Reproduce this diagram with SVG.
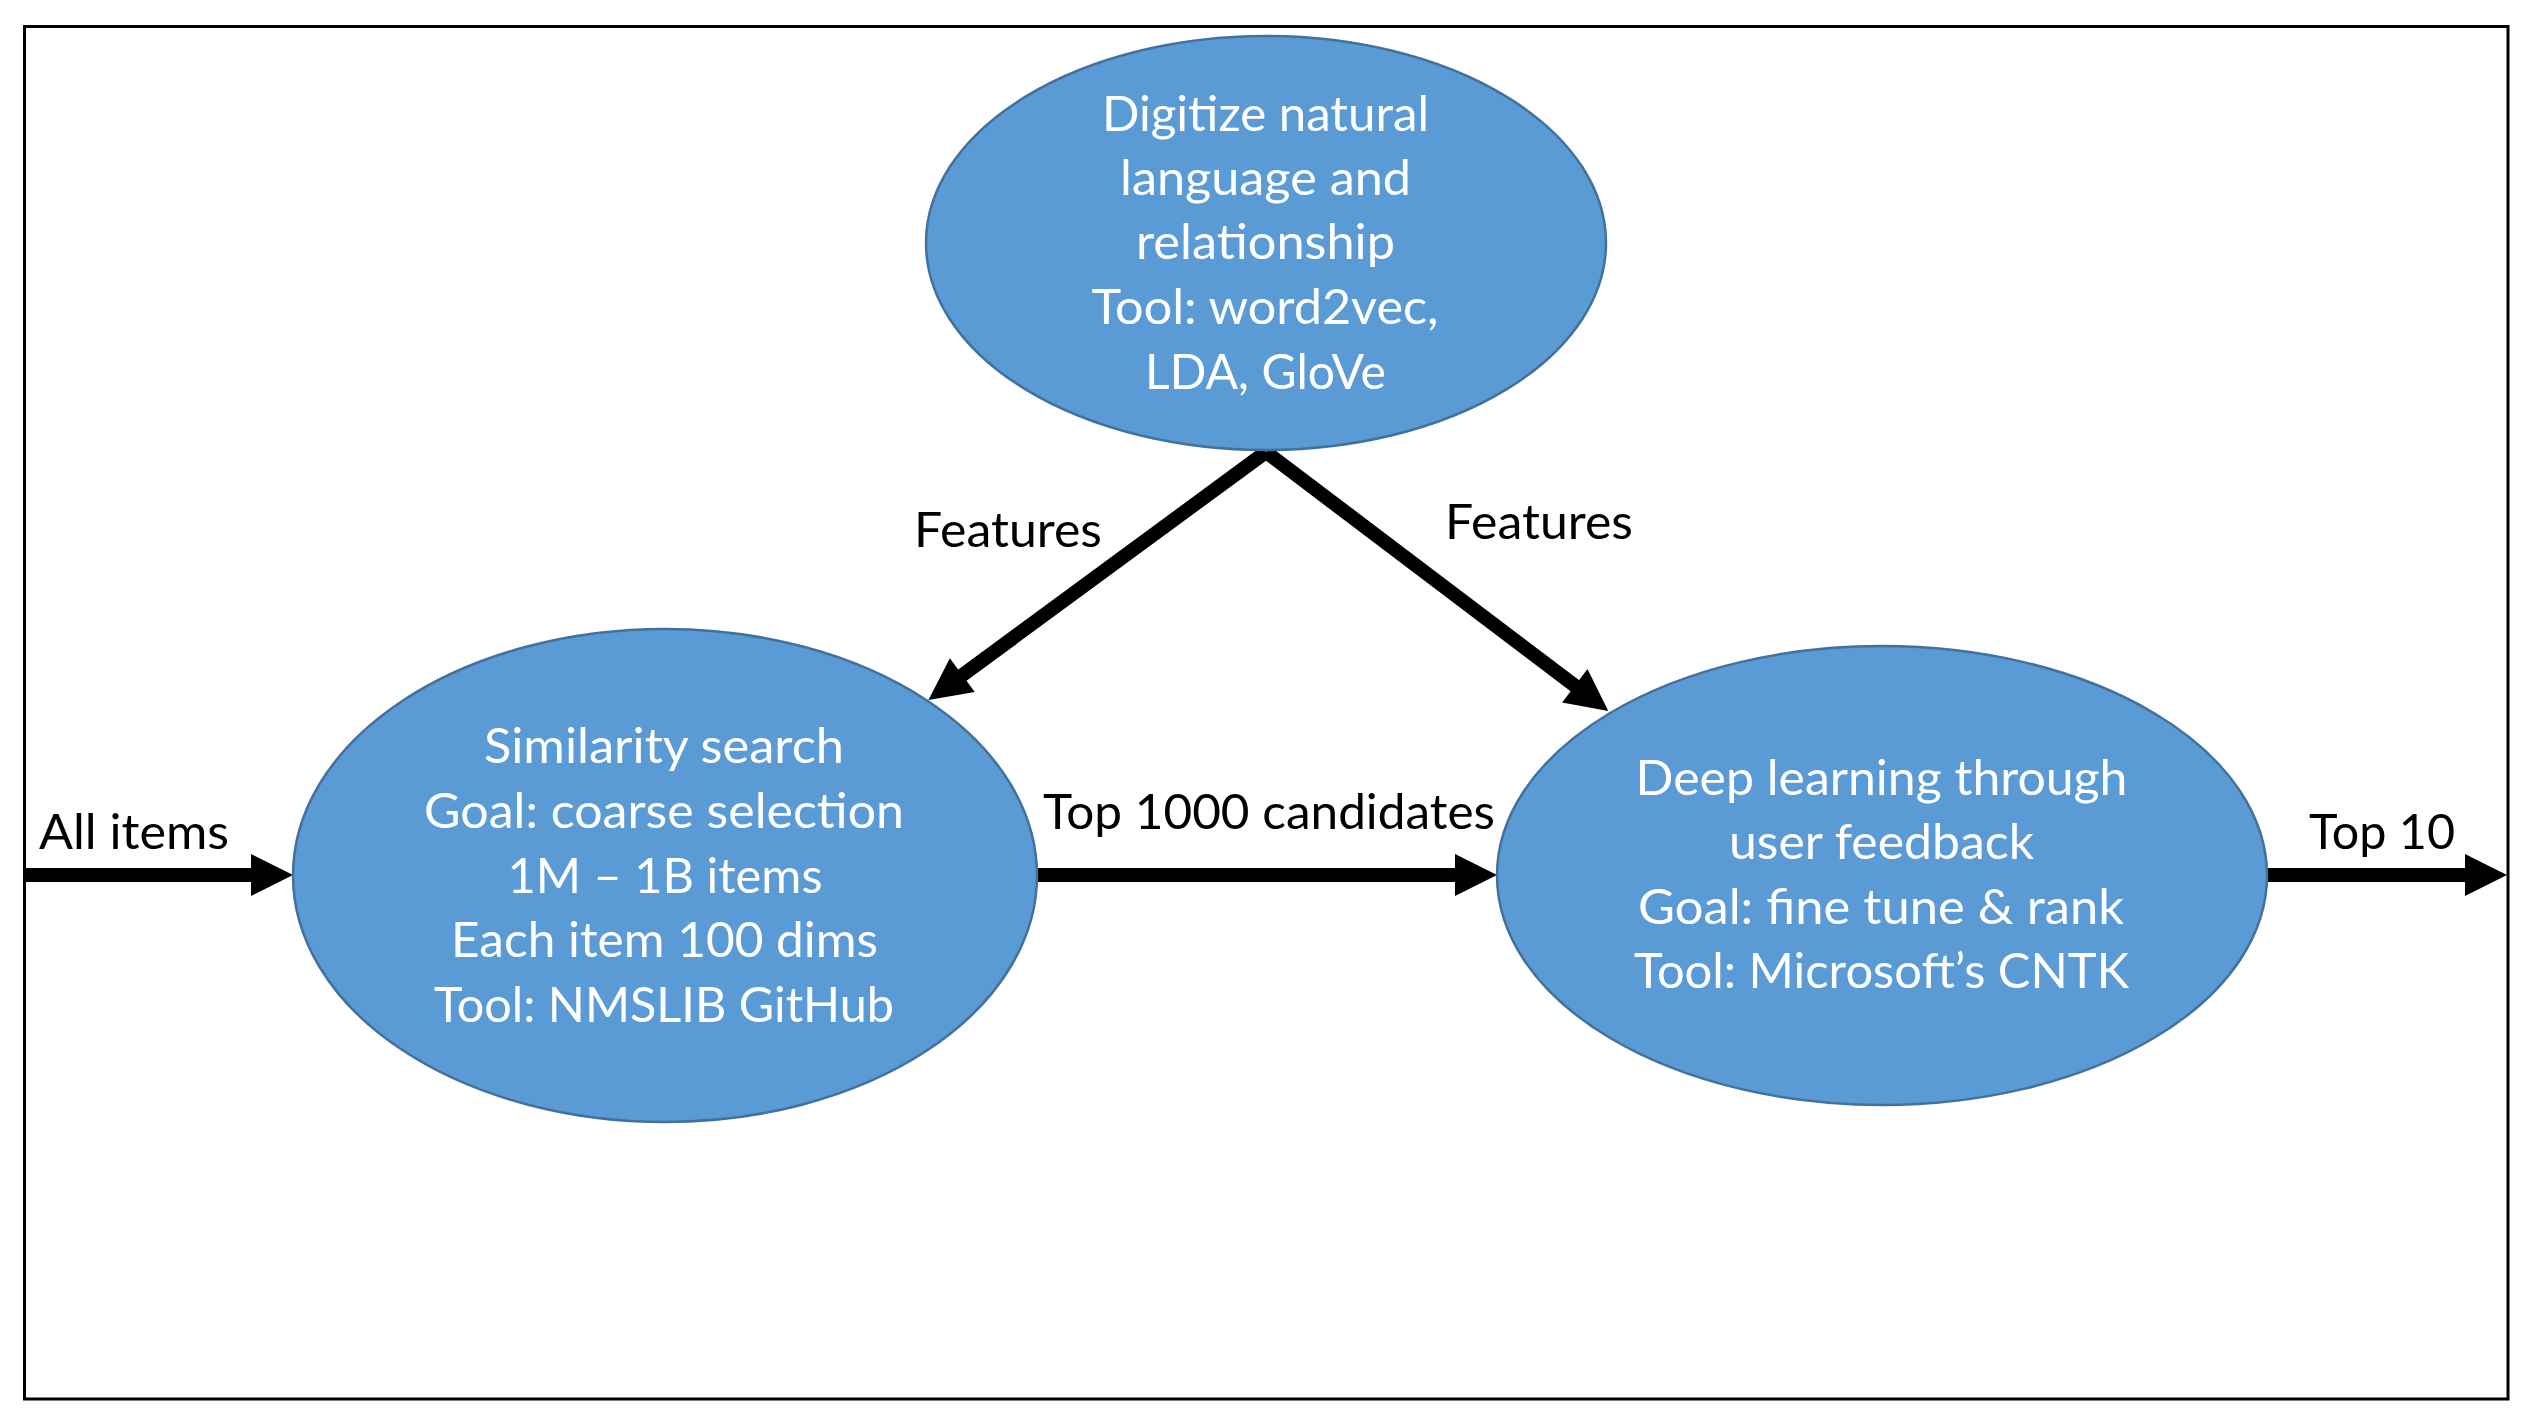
<svg xmlns="http://www.w3.org/2000/svg" width="2534" height="1424" viewBox="0 0 2534 1424">
<style>
.node ellipse{fill:#5B9BD5;stroke:#41719C;stroke-width:2.5}
.nt{font-family:Lato,"Liberation Sans",sans-serif;font-size:48px;fill:#FFFFFF;text-anchor:middle}
.lbl{font-family:Lato,"Liberation Sans",sans-serif;font-size:48px;fill:#000000;text-anchor:middle}
.conn line{stroke:#000000;stroke-width:14;fill:none}
</style>
<defs>
<marker id="ah" markerUnits="userSpaceOnUse" markerWidth="42" markerHeight="42" refX="2" refY="21" orient="auto" overflow="visible">
<path d="M0,0 L42,21 L0,42 Z" fill="#000000"/>
</marker>
</defs>
<rect x="24.5" y="26.5" width="2483.5" height="1372.5" fill="#FFFFFF" stroke="#000000" stroke-width="3"/>
<g id="connectors" class="conn">
<line x1="24" y1="875" x2="253" y2="875" marker-end="url(#ah)"/>
<line x1="1037" y1="875" x2="1457" y2="875" marker-end="url(#ah)"/>
<line x1="2267" y1="875" x2="2467" y2="875" marker-end="url(#ah)"/>
<line x1="1266" y1="452" x2="960.7" y2="676.3" marker-end="url(#ah)"/>
<line x1="1266" y1="452" x2="1576.4" y2="686.9" marker-end="url(#ah)"/>
</g>
<g id="labels">
<text class="lbl" x="134" y="849" textLength="190" lengthAdjust="spacingAndGlyphs">All items</text>
<text class="lbl" x="1269" y="829" textLength="452" lengthAdjust="spacingAndGlyphs">Top 1000 candidates</text>
<text class="lbl" x="2382" y="849" textLength="146" lengthAdjust="spacingAndGlyphs">Top 10</text>
<text class="lbl" x="1008" y="547" textLength="188" lengthAdjust="spacingAndGlyphs">Features</text>
<text class="lbl" x="1539" y="539" textLength="188" lengthAdjust="spacingAndGlyphs">Features</text>
</g>
<g id="node-digitize" class="node">
<ellipse cx="1266" cy="243" rx="340" ry="207"/>
<text class="nt" x="1265.5" y="131" textLength="327" lengthAdjust="spacingAndGlyphs">Digitize natural</text>
<text class="nt" x="1265.5" y="195" textLength="291" lengthAdjust="spacingAndGlyphs">language and</text>
<text class="nt" x="1265.5" y="259" textLength="259" lengthAdjust="spacingAndGlyphs">relationship</text>
<text class="nt" x="1265" y="324" textLength="347" lengthAdjust="spacingAndGlyphs">Tool: word2vec,</text>
<text class="nt" x="1265.5" y="389" textLength="241" lengthAdjust="spacingAndGlyphs">LDA, GloVe</text>
</g>
<g id="node-similarity" class="node">
<ellipse cx="665" cy="875.5" rx="372" ry="246.5"/>
<text class="nt" x="664" y="763" textLength="360" lengthAdjust="spacingAndGlyphs">Similarity search</text>
<text class="nt" x="664" y="828" textLength="480" lengthAdjust="spacingAndGlyphs">Goal: coarse selection</text>
<text class="nt" x="665" y="893" textLength="315" lengthAdjust="spacingAndGlyphs">1M – 1B items</text>
<text class="nt" x="664.5" y="957" textLength="427" lengthAdjust="spacingAndGlyphs">Each item 100 dims</text>
<text class="nt" x="664" y="1022" textLength="460" lengthAdjust="spacingAndGlyphs">Tool: NMSLIB GitHub</text>
</g>
<g id="node-deep" class="node">
<ellipse cx="1882" cy="875.5" rx="385" ry="229.5"/>
<text class="nt" x="1881.5" y="795" textLength="492" lengthAdjust="spacingAndGlyphs">Deep learning through</text>
<text class="nt" x="1881.5" y="859" textLength="305" lengthAdjust="spacingAndGlyphs">user feedback</text>
<text class="nt" x="1881" y="924" textLength="486" lengthAdjust="spacingAndGlyphs">Goal: fine tune &amp; rank</text>
<text class="nt" x="1881.5" y="988" textLength="495" lengthAdjust="spacingAndGlyphs">Tool: Microsoft’s CNTK</text>
</g>
</svg>
